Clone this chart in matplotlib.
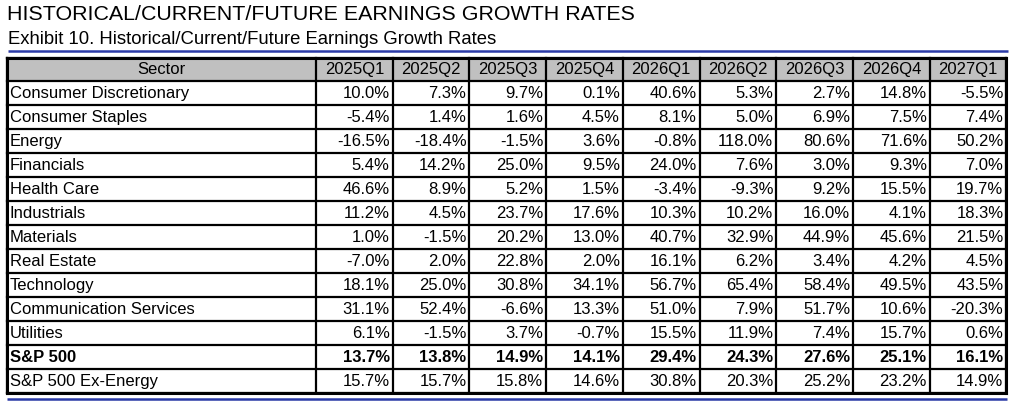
import matplotlib.pyplot as plt
from matplotlib.patches import Rectangle

plt.rcParams["font.family"] = ["Liberation Sans", "DejaVu Sans"]

title = "HISTORICAL/CURRENT/FUTURE EARNINGS GROWTH RATES"
subtitle = "Exhibit 10. Historical/Current/Future Earnings Growth Rates"

quarters = ["2025Q1", "2025Q2", "2025Q3", "2025Q4", "2026Q1",
            "2026Q2", "2026Q3", "2026Q4", "2027Q1"]
sectors = ["Consumer Discretionary", "Consumer Staples", "Energy", "Financials",
           "Health Care", "Industrials", "Materials", "Real Estate", "Technology",
           "Communication Services", "Utilities", "S&P 500", "S&P 500 Ex-Energy"]

q2025_1 = [10.0, -5.4, -16.5, 5.4, 46.6, 11.2, 1.0, -7.0, 18.1, 31.1, 6.1, 13.7, 15.7]
q2025_2 = [7.3, 1.4, -18.4, 14.2, 8.9, 4.5, -1.5, 2.0, 25.0, 52.4, -1.5, 13.8, 15.7]
q2025_3 = [9.7, 1.6, -1.5, 25.0, 5.2, 23.7, 20.2, 22.8, 30.8, -6.6, 3.7, 14.9, 15.8]
q2025_4 = [0.1, 4.5, 3.6, 9.5, 1.5, 17.6, 13.0, 2.0, 34.1, 13.3, -0.7, 14.1, 14.6]
q2026_1 = [40.6, 8.1, -0.8, 24.0, -3.4, 10.3, 40.7, 16.1, 56.7, 51.0, 15.5, 29.4, 30.8]
q2026_2 = [5.3, 5.0, 118.0, 7.6, -9.3, 10.2, 32.9, 6.2, 65.4, 7.9, 11.9, 24.3, 20.3]
q2026_3 = [2.7, 6.9, 80.6, 3.0, 9.2, 16.0, 44.9, 3.4, 58.4, 51.7, 7.4, 27.6, 25.2]
q2026_4 = [14.8, 7.5, 71.6, 9.3, 15.5, 4.1, 45.6, 4.2, 49.5, 10.6, 15.7, 25.1, 23.2]
q2027_1 = [-5.5, 7.4, 50.2, 7.0, 19.7, 18.3, 21.5, 4.5, 43.5, -20.3, 0.6, 16.1, 14.9]
columns = [q2025_1, q2025_2, q2025_3, q2025_4, q2026_1,
           q2026_2, q2026_3, q2026_4, q2027_1]
bold_rows = ["S&P 500"]

W, H = 1020, 405
fig = plt.figure(figsize=(W / 100, H / 100), dpi=100)
ax = fig.add_axes([0, 0, 1, 1])
ax.set_xlim(0, W)
ax.set_ylim(H, 0)
ax.axis("off")

blue = "#2b3aa6"
ax.text(7, 15, title, fontsize=15.4, va="center", ha="left", color="black")
ax.text(8, 40, subtitle, fontsize=13.3, va="center", ha="left", color="black")
ax.plot([8, 1008], [50.5, 50.5], color=blue, lw=1.8, solid_capstyle="butt")
ax.plot([7, 1007], [398.5, 398.5], color=blue, lw=1.8, solid_capstyle="butt")

# table geometry
left, right = 7.5, 1006.5
top, bottom = 57.5, 393
sector_w = 316 - left
col_w = (right - 316) / len(quarters)
n_rows = len(sectors) + 1
row_h = (bottom - top) / n_rows
fs = 12

# header background
ax.add_patch(Rectangle((left, top), right - left, row_h, facecolor="#c0c0c0",
                       edgecolor="none", zorder=1))

xs = [left, 316] + [316 + col_w * (i + 1) for i in range(len(quarters))]
for x in xs:
    ax.plot([x, x], [top, bottom], color="black", lw=1.6, zorder=3)
for r in range(n_rows + 1):
    y = top + r * row_h
    ax.plot([left, right], [y, y], color="black", lw=1.6, zorder=3)
for x in [left, right]:
    ax.plot([x, x], [top, bottom], color="black", lw=2.2, zorder=4)
for y in [top, bottom]:
    ax.plot([left, right], [y, y], color="black", lw=2.2, zorder=4)

# header text
yc = top + row_h / 2 + 0.5
ax.text(left + sector_w / 2, yc, "Sector", fontsize=fs, ha="center", va="center")
for i, q in enumerate(quarters):
    ax.text(316 + col_w * (i + 0.5), yc, q, fontsize=fs, ha="center", va="center")

# body
for r, name in enumerate(sectors):
    yc = top + (r + 1.5) * row_h + 0.5
    wt = "bold" if name in bold_rows else "normal"
    ax.text(left + 2.5, yc, name, fontsize=fs, ha="left", va="center", fontweight=wt)
    for i, col in enumerate(columns):
        ax.text(316 + col_w * (i + 1) - 3, yc, f"{col[r]:.1f}%", fontsize=fs,
                ha="right", va="center", fontweight=wt)

fig.savefig("out.png", dpi=100, facecolor="white")
